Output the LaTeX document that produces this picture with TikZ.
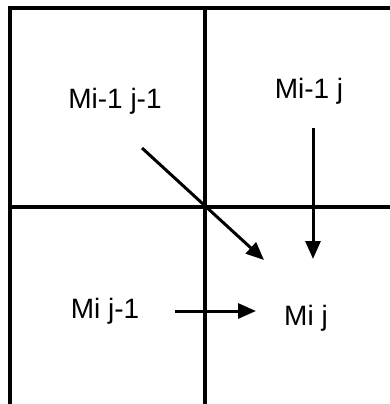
\documentclass[tikz,border=0pt]{standalone}
\usepackage{fontspec}
\setmainfont{Liberation Sans}
\usetikzlibrary{arrows.meta,positioning}

\begin{document}
\begin{tikzpicture}[
    x=1pt, y=-1pt,
    font=\fontsize{28}{32}\selectfont,
    lbl/.style={inner sep=0pt, anchor=base},
    frame/.style={line width=4pt},
    grid/.style={line width=3.2pt},
    arr/.style={-{Triangle[length=18pt, width=15pt]}, line width=3pt},
  ]
  \useasboundingbox (0,0) rectangle (390,404);

  % the four cells
  \begin{scope}
    \clip (0,0) rectangle (390,404);
    \draw[frame] (10,8) rectangle (410,420);
    \draw[grid] (205,8) -- (205,420);
    \draw[grid] (10,207) -- (410,207);
  \end{scope}

  \node[lbl] (m11) at (115,108) {Mi-1 j-1};
  \node[lbl] (m10) at (309,98) {Mi-1 j};
  \node[lbl] (m01) at (105,318) {Mi j-1};
  \node[lbl] (m00) at (306,325) {Mi j};

  \coordinate (d1) at (142,148);
  \coordinate (d2) at (264,260);
  \coordinate (v1) at (313,128);
  \coordinate (v2) at (313,259);
  \coordinate (h1) at (175,311);
  \coordinate (h2) at (256,311);

  \draw[arr] (d1) -- (d2);
  \draw[arr] (v1) -- (v2);
  \draw[arr] (h1) -- (h2);
\end{tikzpicture}
\end{document}
